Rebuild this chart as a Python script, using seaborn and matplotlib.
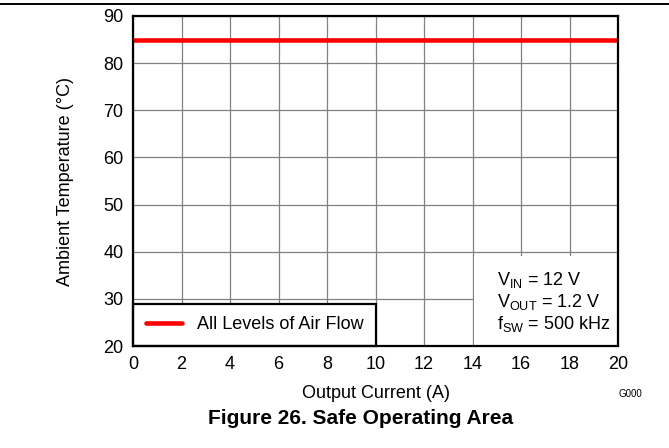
import matplotlib
matplotlib.use("Agg")
import matplotlib.pyplot as plt
import seaborn as sns
import pandas as pd
from matplotlib.patches import Rectangle
from matplotlib.lines import Line2D

# Data
current = [0, 20]
temperature = [85, 85]
series_label = "All Levels of Air Flow"
x_ticks = [0, 2, 4, 6, 8, 10, 12, 14, 16, 18, 20]
y_ticks = [20, 30, 40, 50, 60, 70, 80, 90]

df = pd.DataFrame({"Output Current (A)": current, "Ambient Temperature (°C)": temperature,
                   "series": [series_label] * len(current)})

sns.set_theme(style="white")
plt.rcParams["font.family"] = ["Liberation Sans", "DejaVu Sans"]
plt.rcParams["mathtext.fontset"] = "custom"
plt.rcParams["mathtext.rm"] = "Liberation Sans"
plt.rcParams["text.color"] = "black"
plt.rcParams["axes.labelcolor"] = "black"

W, H = 669, 448
fig = plt.figure(figsize=(W / 100, H / 100), dpi=100)
L, R, T, B = 133, 618, 16, 346
ax = fig.add_axes([L / W, 1 - B / H, (R - L) / W, (B - T) / H])

sns.lineplot(data=df, x="Output Current (A)", y="Ambient Temperature (°C)", hue="series",
             palette=["#ff0000"], linewidth=3.3, ax=ax, zorder=5)

FS = 13
ax.set_xlim(0, 20)
ax.set_ylim(20, 90)
ax.set_xticks(x_ticks)
ax.set_yticks(y_ticks)
ax.grid(True, color="#808080", linewidth=0.9)
ax.set_axisbelow(True)
ax.tick_params(axis="both", length=0, labelsize=FS, colors="black", pad=7)
for s in ax.spines.values():
    s.set_visible(True)
    s.set_color("black")
    s.set_linewidth(1.6)
    s.set_zorder(10)

ax.set_xlabel("Output Current (A)", fontsize=FS, labelpad=9, color="black")
ax.set_ylabel("Ambient Temperature (°C)", fontsize=FS, labelpad=21, color="black")

# Legend
leg = ax.legend(loc="lower left", borderaxespad=0, fancybox=False, frameon=True,
                edgecolor="black", framealpha=1, fontsize=FS, handlelength=2.0,
                handletextpad=0.85, borderpad=0.7, labelcolor="black")
leg.get_frame().set_linewidth(1.6)
leg.set_zorder(8)

# Conditions box
ax.add_patch(Rectangle((0.703, 0.0), 0.297, 0.273, transform=ax.transAxes,
                       facecolor="white", edgecolor="none", zorder=6))
cond = [r"V$_\mathregular{IN}$ = 12 V", r"V$_\mathregular{OUT}$ = 1.2 V",
        r"f$_\mathregular{SW}$ = 500 kHz"]
for txt, yy in zip(cond, [0.200, 0.133, 0.067]):
    ax.text(0.750, yy, txt, transform=ax.transAxes, fontsize=FS, va="center",
            ha="left", zorder=7, color="black")

# Figure decorations
fig.add_artist(Line2D([0, 1], [1 - 4.5 / H, 1 - 4.5 / H], transform=fig.transFigure,
                      color="black", linewidth=1.4))
fig.text(630 / W, 1 - 394 / H, "G000", fontsize=7, ha="center", va="center", color="black")
fig.text(361 / W, 1 - 418 / H, "Figure 26. Safe Operating Area", fontsize=15,
         fontweight="bold", ha="center", va="center", color="black")

fig.savefig("out.png", dpi=100)
